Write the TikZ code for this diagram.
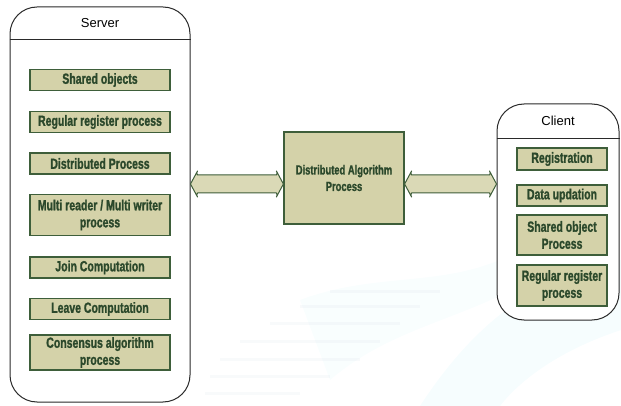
\documentclass[tikz,border=0pt]{standalone}
\usepackage{fontspec}
\setmainfont{Liberation Sans}
\newfontfamily\narrowfont[FakeStretch=0.71,FakeBold=1.2]{Liberation Sans}
\usetikzlibrary{calc}
\definecolor{boxfill}{HTML}{D4D2A9}
\definecolor{boxedge}{HTML}{3E5E3A}
\definecolor{boxtext}{HTML}{2B482B}
\definecolor{frameline}{HTML}{2A2A2A}
\definecolor{washblue}{HTML}{BFEFF5}
\definecolor{washgrey}{HTML}{C9D6E0}
\tikzset{
  panel/.style={draw=frameline, line width=1pt, fill=white, rounded corners=27pt, inner sep=0pt},
  item/.style={draw=boxedge, line width=1.2pt, fill=boxfill, text=boxtext, inner sep=0pt,
    align=center, font=\narrowfont\bfseries\fontsize{14.8}{17}\selectfont},
  hub/.style={draw=boxedge, line width=1.2pt, fill=boxfill, text=boxtext, inner sep=0pt,
    align=center, font=\narrowfont\bfseries\fontsize{13.2}{16.5}\selectfont},
  title/.style={font=\fontsize{13}{15}\selectfont, text=black, inner sep=0pt},
  flow/.style={draw=boxedge, line width=1pt, fill=boxfill!85!white, line join=round},
  wash/.style={fill=washblue, opacity=0.14, draw=none}
}
% two-headed block arrow between two points on the same level
\newcommand\blockarrow[2]{%
  \path[flow] let \p1=#1, \p2=#2 in
    (\x1,\y1) -- (\x1+7pt,\y1+13pt) .. controls (\x1+6pt,\y1+11pt) .. (\x1+7pt,\y1+9pt)
    -- (\x2-7pt,\y2+9pt) .. controls (\x2-6pt,\y2+11pt) .. (\x2-7pt,\y2+13pt)
    -- (\x2,\y2) -- (\x2-7pt,\y2-13pt) .. controls (\x2-6pt,\y2-11pt) .. (\x2-7pt,\y2-9pt)
    -- (\x1+7pt,\y1-9pt) .. controls (\x1+6pt,\y1-11pt) .. (\x1+7pt,\y1-13pt) -- cycle;}
\begin{document}
\begin{tikzpicture}[x=1pt,y=-1pt]
\useasboundingbox (0,0) rectangle (621,406);

% faint background wash
\begin{scope}
  \fill[wash] (420,406) .. controls (470,330) and (520,290) .. (600,260) -- (621,260) -- (621,330) .. controls (560,350) and (520,380) .. (500,406) -- cycle;
  \fill[wash, opacity=0.09] (300,300) .. controls (380,270) and (450,290) .. (520,250) -- (560,260) .. controls (480,320) and (400,320) .. (330,380) -- cycle;
  \foreach \yy/\xa/\xb in {290/330/440, 305/300/420, 322/270/400, 340/240/380, 358/220/360, 375/210/330, 392/205/300}
    \fill[washgrey, opacity=0.13] (\xa,\yy) rectangle (\xb,\yy+3);
\end{scope}

% outer panels
\node[panel, minimum width=180pt, minimum height=395pt] (server) at (100,204.5) {};
\node[panel, minimum width=122pt, minimum height=216pt] (client) at (558,212) {};
\coordinate (srvcut) at ($(server.north)+(0,33)$);
\coordinate (clicut) at ($(client.north)+(0,35)$);
\draw[frameline, line width=1pt] (srvcut -| server.west) -- (srvcut -| server.east);
\draw[frameline, line width=1pt] (clicut -| client.west) -- (clicut -| client.east);
\node[title] (servertitle) at (100,23) {Server};
\node[title] (clienttitle) at (558,121) {Client};

% server items
\node[item, minimum width=140pt, minimum height=21pt] (s1) at (100,80) {Shared objects};
\node[item, minimum width=140pt, minimum height=21pt] (s2) at (100,122) {Regular register process};
\node[item, minimum width=140pt, minimum height=21pt] (s3) at (100,163.5) {Distributed Process};
\node[item, minimum width=140pt, minimum height=41pt] (s4) at (100,215) {Multi reader / Multi writer\\process};
\node[item, minimum width=140pt, minimum height=21pt] (s5) at (100,267.5) {Join Computation};
\node[item, minimum width=140pt, minimum height=21pt] (s6) at (100,309) {Leave Computation};
\node[item, minimum width=140pt, minimum height=35pt] (s7) at (100,352.5) {Consensus algorithm\\process};

% client items
\node[item, minimum width=90pt, minimum height=22pt] (c1) at (562,159) {Registration};
\node[item, minimum width=90pt, minimum height=21pt] (c2) at (562,195.5) {Data updation};
\node[item, minimum width=90pt, minimum height=40pt] (c3) at (562,235) {Shared object\\Process};
\node[item, minimum width=90pt, minimum height=41pt] (c4) at (562,285.5) {Regular register\\process};

% central process
\node[hub, minimum width=120pt, minimum height=92pt] (hub) at (344,178) {Distributed Algorithm\\Process};

% links
\coordinate (lane) at ($(hub.center)+(0,6)$);
\blockarrow{(server.east |- lane)}{(hub.west |- lane)}
\blockarrow{(hub.east |- lane)}{(client.west |- lane)}
\end{tikzpicture}
\end{document}
